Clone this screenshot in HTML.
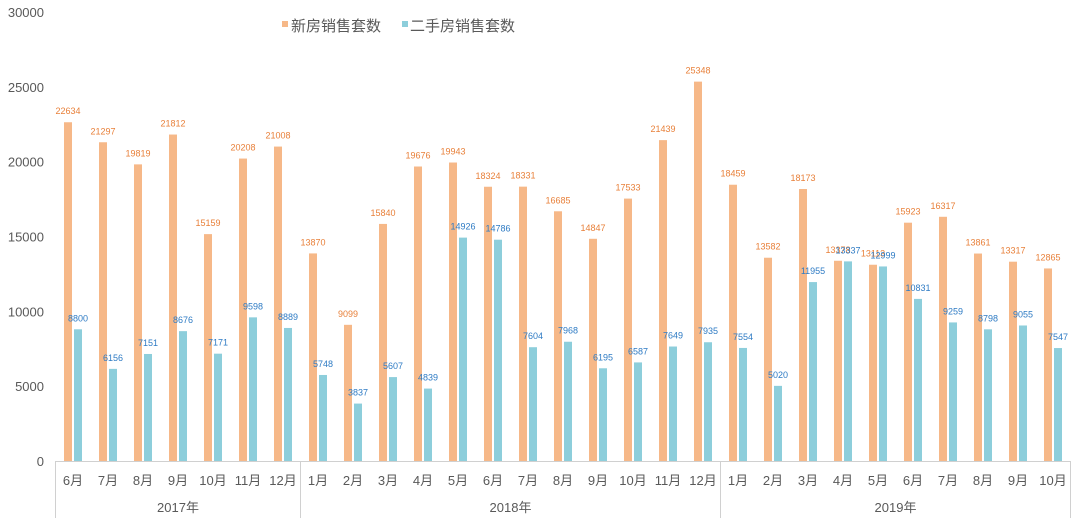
<!DOCTYPE html>
<html><head><meta charset="utf-8"><style>
body{margin:0;background:#fff;}
svg text{font-family:"Liberation Sans","Noto Sans CJK SC",sans-serif;}
</style></head><body>
<svg id="chart" width="1080" height="522" xmlns="http://www.w3.org/2000/svg">
<g id="axes"></g><g id="bars"></g>
<g>
<rect x="282" y="21" width="6" height="6" fill="#F6B888"/>
<text x="291" y="31" font-size="15" fill="#595959">新房销售套数</text>
<rect x="402" y="21" width="6" height="6" fill="#8DCEDB"/>
<text x="410" y="31" font-size="15" fill="#595959">二手房销售套数</text>
</g>
</svg>
<script>
const months=["6月","7月","8月","9月","10月","11月","12月","1月","2月","3月","4月","5月","6月","7月","8月","9月","10月","11月","12月","1月","2月","3月","4月","5月","6月","7月","8月","9月","10月"];
const years=[{label:"2017年",count:7},{label:"2018年",count:12},{label:"2019年",count:10}];
const newSales=[22634,21297,19819,21812,15159,20208,21008,13870,9099,15840,19676,19943,18324,18331,16685,14847,17533,21439,25348,18459,13582,18173,13378,13113,15923,16317,13861,13317,12865];
const secondSales=[8800,6156,7151,8676,7171,9598,8889,5748,3837,5607,4839,14926,14786,7604,7968,6195,6587,7649,7935,7554,5020,11955,13337,12999,10831,9259,8798,9055,7547];
const yTicks=[0,5000,10000,15000,20000,25000,30000];
const NS="http://www.w3.org/2000/svg";
const x0=55.5,cw=35,yBase=461,yTop=12,yMax=30000;
const y=v=>yBase-(v/yMax)*(yBase-yTop);
const xc=i=>x0+cw*(i+0.5);
function mk(tag,attrs,parent,txt){const e=document.createElementNS(NS,tag);for(const k in attrs)e.setAttribute(k,attrs[k]);if(txt!==undefined)e.textContent=txt;parent.appendChild(e);return e;}
const axes=document.getElementById('axes'),bars=document.getElementById('bars');
yTicks.forEach(t=>{const e=mk('text',{x:44,y:y(t)+5,'text-anchor':'end','font-size':13,fill:'#595959'},axes,String(t));

});
const base=mk('line',{x1:x0,x2:x0+cw*months.length,y1:yBase+0.5,y2:yBase+0.5,stroke:'#d0d0d0'},axes);


months.forEach((m,i)=>{const e=mk('text',{x:xc(i),y:485,'text-anchor':'middle','font-size':13,fill:'#595959'},axes,m);

});
let acc=0;
[0].concat(years.map(yy=>acc+=yy.count)).forEach(c=>{const l=mk('line',{x1:x0+cw*c,x2:x0+cw*c,y1:yBase,y2:518,stroke:'#d0d0d0'},axes);

});
acc=0;
years.forEach(yy=>{const e=mk('text',{x:x0+cw*(acc+yy.count/2),y:512,'text-anchor':'middle','font-size':13,fill:'#595959'},axes,yy.label);

acc+=yy.count;});
newSales.forEach((v,i)=>{const c=xc(i);
const r=mk('rect',{x:c-9,y:y(v),width:8,height:yBase-y(v),fill:'#F6B888'},bars);


const t=mk('text',{x:c-5,y:y(v)-8,'text-anchor':'middle','font-size':9,fill:'#E8803A'},bars,String(v));

});
secondSales.forEach((v,i)=>{const c=xc(i);
const r=mk('rect',{x:c+1,y:y(v),width:8,height:yBase-y(v),fill:'#8DCEDB'},bars);


const t=mk('text',{x:c+5,y:y(v)-8,'text-anchor':'middle','font-size':9,fill:'#2E7BC4'},bars,String(v));

});
</script>
</body></html>
